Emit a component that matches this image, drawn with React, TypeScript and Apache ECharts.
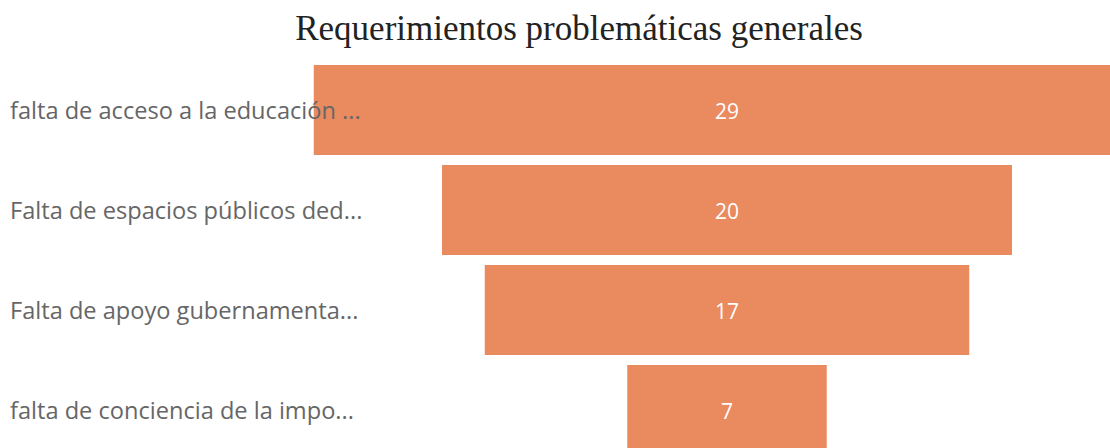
import React, { useEffect, useRef } from "react";
import * as echarts from "echarts";

const titleText = "Requerimientos problemáticas generales";
const categories = [
  "falta de acceso a la educación ...",
  "Falta de espacios públicos ded...",
  "Falta de apoyo gubernamenta...",
  "falta de conciencia de la impo...",
];
const values = [29, 20, 17, 7];

export default function App() {
  const ref = useRef<HTMLDivElement>(null);
  useEffect(() => {
    document.body.style.margin = "0";
    document.body.style.overflow = "hidden";
    const chart = echarts.init(ref.current!, undefined, { renderer: "svg" });
    const maxV = Math.max(...values);
    chart.setOption({
      animation: false,
      title: {
        text: titleText,
        left: "center",
        top: 6,
        textStyle: {
          fontFamily: "Liberation Serif",
          fontWeight: "normal",
          fontSize: 35,
          color: "#222",
        },
      },
      grid: { left: 313.75, right: 17.75, top: 60, bottom: 20, containLabel: false },
      xAxis: {
        type: "value",
        min: -maxV / 2,
        max: maxV / 2,
        show: false,
      },
      yAxis: {
        type: "category",
        data: categories,
        inverse: true,
        z: 5,
        axisLine: { show: false },
        axisTick: { show: false },
        splitLine: { show: false },
        axisLabel: {
          align: "left",
          margin: 303.75,
          fontFamily: "Open Sans",
          fontSize: 23.6,
          color: "#666",
        },
      },
      series: [
        {
          type: "custom",
          data: values.map((v, i) => [i, v]),
          encode: { x: 1, y: 0 },
          renderItem: (params: any, api: any) => {
            const idx = api.value(0);
            const v = api.value(1);
            const p0 = api.coord([-v / 2, idx]);
            const p1 = api.coord([v / 2, idx]);
            const h = api.size([0, 1])[1] * 0.9;
            return {
              type: "group",
              children: [
                {
                  type: "rect",
                  shape: { x: p0[0], y: p0[1] - h / 2, width: p1[0] - p0[0], height: h },
                  style: { fill: "#EA8A5F" },
                },
                {
                  type: "text",
                  x: (p0[0] + p1[0]) / 2,
                  y: p0[1] + 1,
                  style: {
                    text: String(v),
                    fill: "#fff",
                    fontFamily: "Open Sans",
                    fontSize: 21,
                    align: "center",
                    verticalAlign: "middle",
                  },
                },
              ],
            };
          },
        },
      ],
    });
    return () => chart.dispose();
  }, []);
  return <div ref={ref} style={{ width: 1158, height: 480 }} />;
}
